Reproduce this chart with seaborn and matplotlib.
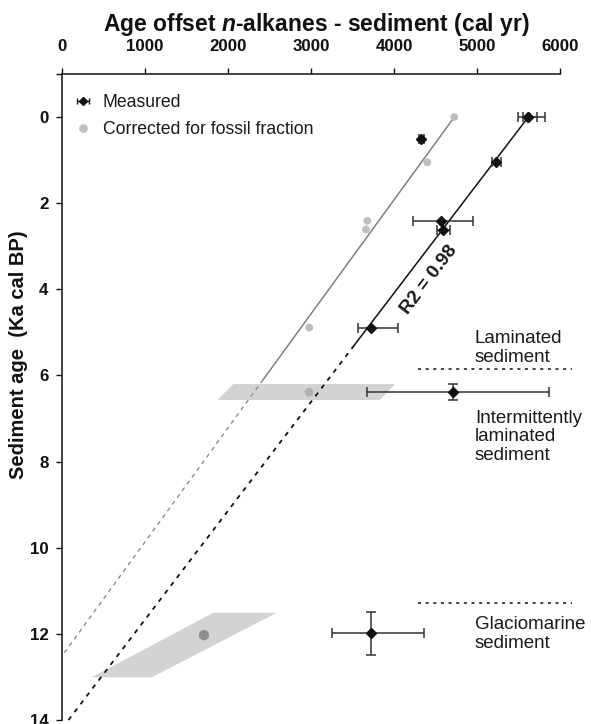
import numpy as np
import pandas as pd
import matplotlib
matplotlib.use("Agg")
import matplotlib.pyplot as plt
import seaborn as sns
from matplotlib.lines import Line2D
from matplotlib.legend_handler import HandlerErrorbar
from matplotlib.container import ErrorbarContainer

# ---------------- data ----------------
measured_offset = [5620, 5620, 4330, 5230, 4570, 4595, 3720, 4705, 3720]
measured_age = [0.0, 0.0, 0.51, 1.05, 2.41, 2.62, 4.89, 6.39, 11.99]
measured_xerr_low = [120, 70, 30, 55, 345, 75, 150, 1030, 470]
measured_xerr_high = [200, 100, 30, 55, 380, 75, 330, 1160, 640]
measured_yerr = [0, 0, 0, 0, 0, 0, 0, 0.19, 0.5]

corrected_offset = [4725, 4400, 3677, 3661, 2978, 2975, 1708]
corrected_age = [0.0, 1.05, 2.41, 2.61, 4.89, 6.39, 12.03]
corrected_shade = ["light", "light", "light", "light", "light", "mid", "dark"]

band1_offset = [2061, 4011, 3830, 1873]
band1_age = [6.2, 6.2, 6.57, 6.57]
band2_offset = [1820, 2585, 1078, 354]
band2_age = [11.51, 11.51, 13.01, 13.01]

# regression lines (intercept at age 0, slope in yr per ka)
meas_fit = dict(intercept=5618, slope=-396, solid_end=5.3, end=14.0)
corr_fit = dict(intercept=4726, slope=-378, solid_end=6.1, end=12.5)

zone_boundaries = [5.86, 11.28]
zone_x = [4290, 6140]
zone_labels = ["Laminated\nsediment", "Intermittently\nlaminated\nsediment",
               "Glaciomarine\nsediment"]
zone_label_age = [5.36, 7.42, 12.0]
zone_label_x = 4975

x_ticks = [0, 1000, 2000, 3000, 4000, 5000, 6000]
y_ticks = [0, 2, 4, 6, 8, 10, 12, 14]

# ---------------- style ----------------
sns.set_theme(style="white")
plt.rcParams["font.family"] = ["Liberation Sans", "DejaVu Sans"]
plt.rcParams["mathtext.fontset"] = "custom"
plt.rcParams["mathtext.it"] = "Liberation Sans:italic:bold"
plt.rcParams["mathtext.rm"] = "Liberation Sans:bold"
plt.rcParams["mathtext.bf"] = "Liberation Sans:bold"

fig = plt.figure(figsize=(5.91, 7.24), dpi=100)
ax = fig.add_axes([0.1054, 0.00552, 0.8421, 0.8923])

# bands
ax.fill(band1_offset, band1_age, color="#d3d3d3", lw=0, zorder=1)
ax.fill(band2_offset, band2_age, color="#d3d3d3", lw=0, zorder=1)

# fit lines
def fit_line(f, a0, a1):
    a = np.array([a0, a1])
    return f["intercept"] + f["slope"] * a, a

x, y = fit_line(corr_fit, 0, corr_fit["solid_end"])
ax.plot(x, y, color="#808080", lw=1.1, zorder=2)
x, y = fit_line(corr_fit, corr_fit["solid_end"], corr_fit["end"])
ax.plot(x, y, color="#8c8c8c", lw=1.0, ls=(0, (3, 3)), zorder=2)
x, y = fit_line(meas_fit, 0, meas_fit["solid_end"])
ax.plot(x, y, color="#111111", lw=1.1, zorder=2)
x, y = fit_line(meas_fit, meas_fit["solid_end"], meas_fit["end"])
ax.plot(x, y, color="#111111", lw=1.3, ls=(0, (2.5, 3)), zorder=2, clip_on=False)

# corrected points
cdf = pd.DataFrame({"offset": corrected_offset, "age": corrected_age,
                    "shade": corrected_shade})
sns.scatterplot(data=cdf, x="offset", y="age", hue="shade", size="shade",
                palette={"light": "#bfbfbf", "mid": "#b0b0b0", "dark": "#8e8e8e"},
                sizes={"light": 32, "mid": 40, "dark": 55},
                edgecolor="none", legend=False, ax=ax, zorder=3)

# measured points
ax.errorbar(measured_offset, measured_age,
            xerr=[measured_xerr_low, measured_xerr_high],
            fmt="none", ecolor="#333333", elinewidth=1.1, capsize=3.3,
            capthick=1.1, zorder=4)
ye = np.array(measured_yerr)
mask = ye > 0
ax.errorbar(np.array(measured_offset)[mask], np.array(measured_age)[mask],
            yerr=ye[mask], fmt="none", ecolor="#333333", elinewidth=1.1,
            capsize=3.3, capthick=1.1, zorder=4)
ax.plot(measured_offset, measured_age, ls="none", marker="D", ms=5.6,
        color="#111111", zorder=5)

# zone boundaries + labels
for b in zone_boundaries:
    ax.plot(zone_x, [b, b], color="#111111", lw=1.1, ls=(0, (2, 3)),
            clip_on=False, zorder=2)
for lab, a in zip(zone_labels, zone_label_age):
    ax.text(zone_label_x, a, lab, ha="left", va="center", fontsize=13.5,
            linespacing=1.12, color="#1a1a1a")

# R2 text
ax.text(4420, 3.78, "R2 = 0.98", rotation=52.7, rotation_mode="anchor",
        ha="center", va="center", fontsize=13.5, fontweight="bold",
        color="#1a1a1a")

# axes formatting
ax.set_xlim(0, 6000)
ax.set_ylim(14, -1)
ax.xaxis.tick_top()
ax.xaxis.set_label_position("top")
ax.set_xticks(x_ticks)
ax.set_xticklabels([str(t) for t in x_ticks], fontsize=12.2, fontweight="bold")
ax.set_yticks([-1] + y_ticks)
ax.set_yticklabels([""] + [str(t) for t in y_ticks], fontsize=12.2,
                   fontweight="bold")
ax.tick_params(axis="x", direction="out", length=4, width=1, pad=10.5,
               colors="#111111", top=True, bottom=False)
ax.tick_params(axis="y", direction="out", length=4, width=1, pad=6,
               colors="#111111", left=True)
for s in ["right", "bottom"]:
    ax.spines[s].set_visible(False)
for s in ["top", "left"]:
    ax.spines[s].set_color("#111111")
    ax.spines[s].set_linewidth(1.1)
ax.grid(False)

ax.set_xlabel("Age offset $n$-alkanes - sediment (cal yr)", fontsize=16.5,
              fontweight="bold", color="#111111")
ax.xaxis.set_label_coords(0.51, 1.0 + (74 - 31) / 646)
ax.set_ylabel("Sediment age  (Ka cal BP)", fontsize=14.5, fontweight="bold",
              color="#111111")
ax.yaxis.set_label_coords((28 - 62.3) / 497.7, 0.565)

# legend
proxy = ax.errorbar([np.nan], [np.nan], xerr=[[1], [1]], fmt="D", ms=4.2,
                    color="#111111", ecolor="#111111", elinewidth=1,
                    capsize=2.5, capthick=1, label="Measured")
corr_h = Line2D([], [], ls="none", marker="o", ms=5.2, color="#bfbfbf",
                label="Corrected for fossil fraction")
leg = ax.legend(handles=[proxy, corr_h], loc="center left",
                bbox_to_anchor=((74.2 - 62.3) / 497.7, (720 - 116) / 646),
                frameon=False, fontsize=12.7, handlelength=1.0,
                handletextpad=0.62, labelspacing=0.55, borderpad=0,
                borderaxespad=0,
                handler_map={ErrorbarContainer: HandlerErrorbar(xerr_size=0.35)})
for t in leg.get_texts():
    t.set_color("#1a1a1a")

fig.savefig("out.png", dpi=100)
